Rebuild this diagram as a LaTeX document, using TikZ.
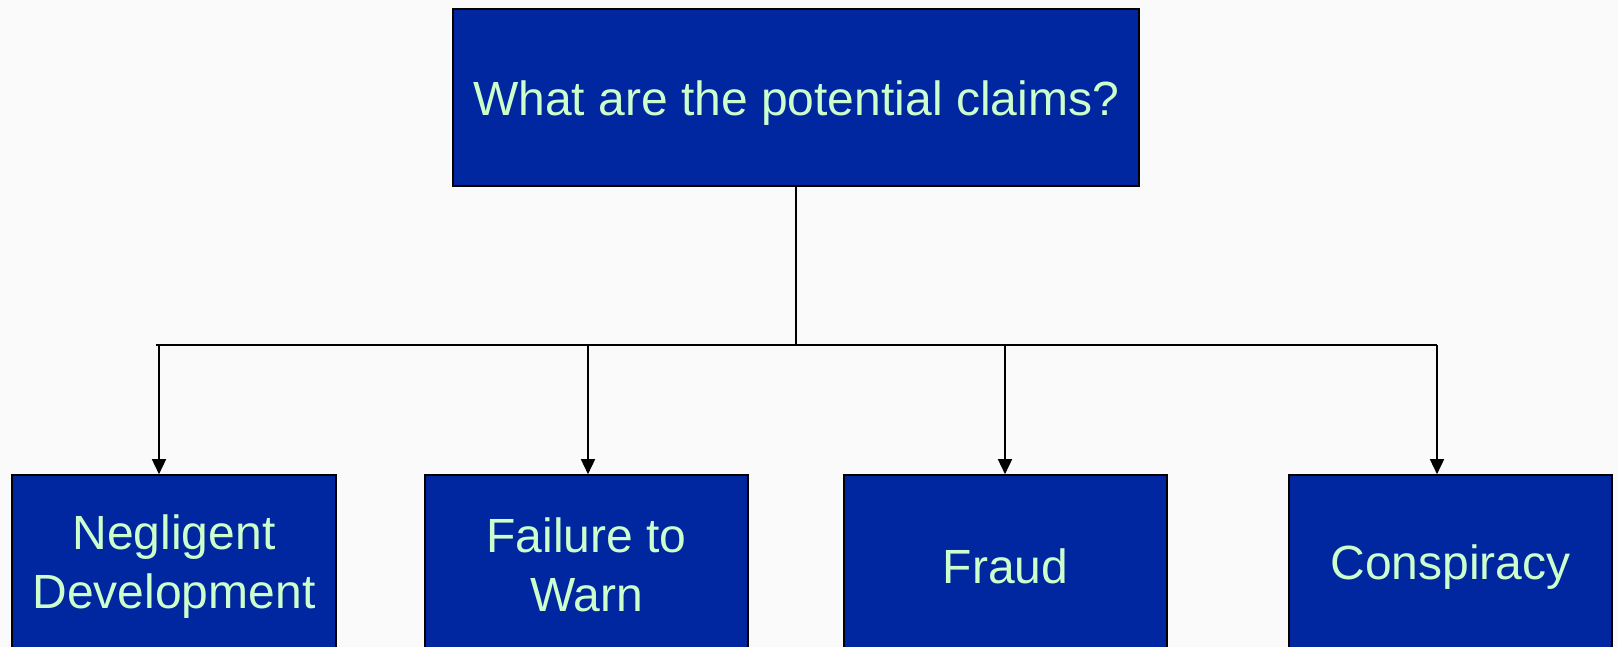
\documentclass[tikz,border=0pt]{standalone}
\usepackage{fontspec}
\setmainfont{Liberation Sans}
\usetikzlibrary{arrows.meta}
\definecolor{boxblue}{RGB}{0,38,160}
\definecolor{txtgreen}{RGB}{204,255,204}
\definecolor{bg}{RGB}{250,250,250}
\tikzset{
  claimbox/.style={draw=black, line width=0.8pt, fill=boxblue, inner sep=0pt},
  claimtext/.style={text=txtgreen, font=\fontsize{24}{29.5}\selectfont, align=center, inner sep=0pt},
  link/.style={draw=black, line width=0.75pt},
  arr/.style={link, -{Triangle[length=7.5pt,width=7pt]}}
}
\begin{document}
\begin{tikzpicture}[x=0.5pt,y=-0.5pt]
\useasboundingbox (0,0) rectangle (1618,647);
\fill[bg] (0,0) rectangle (1618,647);
\begin{scope}
\clip (0,0) rectangle (1618,647);
\node[claimbox, minimum width=343pt, minimum height=88.5pt] (top) at (796,97.5) {};
\node[claimbox, minimum width=162pt, minimum height=88pt] (b1) at (174,563) {};
\node[claimbox, minimum width=161.5pt, minimum height=88pt] (b2) at (586.5,563) {};
\node[claimbox, minimum width=161.5pt, minimum height=88pt] (b3) at (1005.5,563) {};
\node[claimbox, minimum width=161.5pt, minimum height=88pt] (b4) at (1450.5,563) {};
\node[claimtext] (ttop) at ([yshift=-3pt]top.center) {What are the potential claims?};
\node[claimtext] (t1) at ([yshift=-2pt]b1.center) {Negligent\\Development};
\node[claimtext] (t2) at ([yshift=-1pt]b2.center) {Failure to\\Warn};
\node[claimtext] (t3) at ([yshift=-1.5pt]b3.center) {Fraud};
\node[claimtext] (t4) at ([yshift=-2pt]b4.center) {Conspiracy};
\end{scope}
\coordinate (busL) at (156,345);
\coordinate (busR) at (1437,345);
\coordinate (a1) at (159,345);
\coordinate (a2) at (588,345);
\coordinate (a3) at (1005,345);
\coordinate (a4) at (1437,345);
\draw[link] (top.south) -- (top.south |- busL);
\draw[link] (busL) -- (busR);
\draw[arr] (a1) -- (a1 |- b1.north);
\draw[arr] (a2) -- (a2 |- b2.north);
\draw[arr] (a3) -- (a3 |- b3.north);
\draw[arr] (a4) -- (a4 |- b4.north);
\end{tikzpicture}
\end{document}
